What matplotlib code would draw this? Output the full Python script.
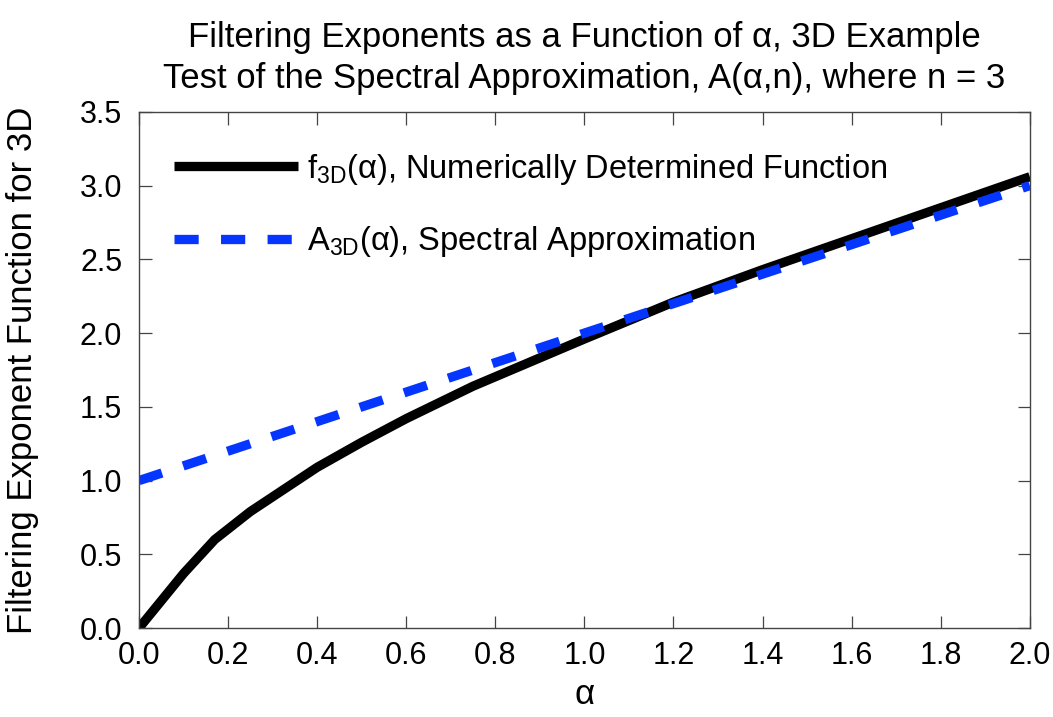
import matplotlib
matplotlib.use("Agg")
import matplotlib.pyplot as plt

# Data
alpha_f = [0.0, 0.1, 0.17, 0.25, 0.4, 0.5, 0.6, 0.75, 1.0, 1.2, 1.4, 1.6, 1.8, 2.0]
f3d = [0.0, 0.37, 0.60, 0.79, 1.09, 1.26, 1.42, 1.64, 1.96, 2.21, 2.43, 2.64, 2.85, 3.06]
alpha_a = [0.0, 2.0]
a3d = [1.0, 3.0]

xticks = [0.0, 0.2, 0.4, 0.6, 0.8, 1.0, 1.2, 1.4, 1.6, 1.8, 2.0]
yticks = [0.0, 0.5, 1.0, 1.5, 2.0, 2.5, 3.0, 3.5]

plt.rcParams['font.family'] = ['Liberation Sans', 'DejaVu Sans']
plt.rcParams['mathtext.fontset'] = 'custom'
plt.rcParams['mathtext.rm'] = 'Liberation Sans'
plt.rcParams['mathtext.it'] = 'Liberation Sans'

fig = plt.figure(figsize=(10.53, 7.17), dpi=100)
ax = fig.add_axes([0.132, 0.124, 0.846, 0.72])

ax.plot(alpha_f, f3d, color='black', lw=6.7, solid_capstyle='butt',
        label=r'f$_{\mathrm{3D}}$(α), Numerically Determined Function')
ax.plot(alpha_a, a3d, color='#0536ff', lw=6.7, dashes=[2.6, 2.4],
        dash_capstyle='butt',
        label=r'A$_{\mathrm{3D}}$(α), Spectral Approximation')

ax.set_xlim(0, 2)
ax.set_ylim(0, 3.5)
ax.set_xticks(xticks)
ax.set_yticks(yticks)
ax.set_xticklabels([f'{v:.1f}' for v in xticks])
ax.set_yticklabels([f'{v:.1f}' for v in yticks])
ax.tick_params(direction='in', length=9, width=0.9, color='#444444',
               top=True, right=True, labelsize=22)
ax.tick_params(axis='x', pad=9)
ax.tick_params(axis='y', pad=12)
for s in ax.spines.values():
    s.set_color('#444444')
    s.set_linewidth(1.0)

ax.set_xlabel('α', fontsize=25, labelpad=5)
ax.set_ylabel('Filtering Exponent Function for 3D', fontsize=25, labelpad=29)
ax.set_title('Filtering Exponents as a Function of α, 3D Example\n'
             'Test of the Spectral Approximation, A(α,n), where n = 3',
             fontsize=25, pad=17, linespacing=1.3)

leg = ax.legend(loc='upper left', frameon=False, fontsize=23.5,
                handlelength=3.8, labelspacing=1.15, handletextpad=0.28,
                borderaxespad=0.92, bbox_to_anchor=(-0.009, 1.006))

fig.savefig('out.png', dpi=100)
